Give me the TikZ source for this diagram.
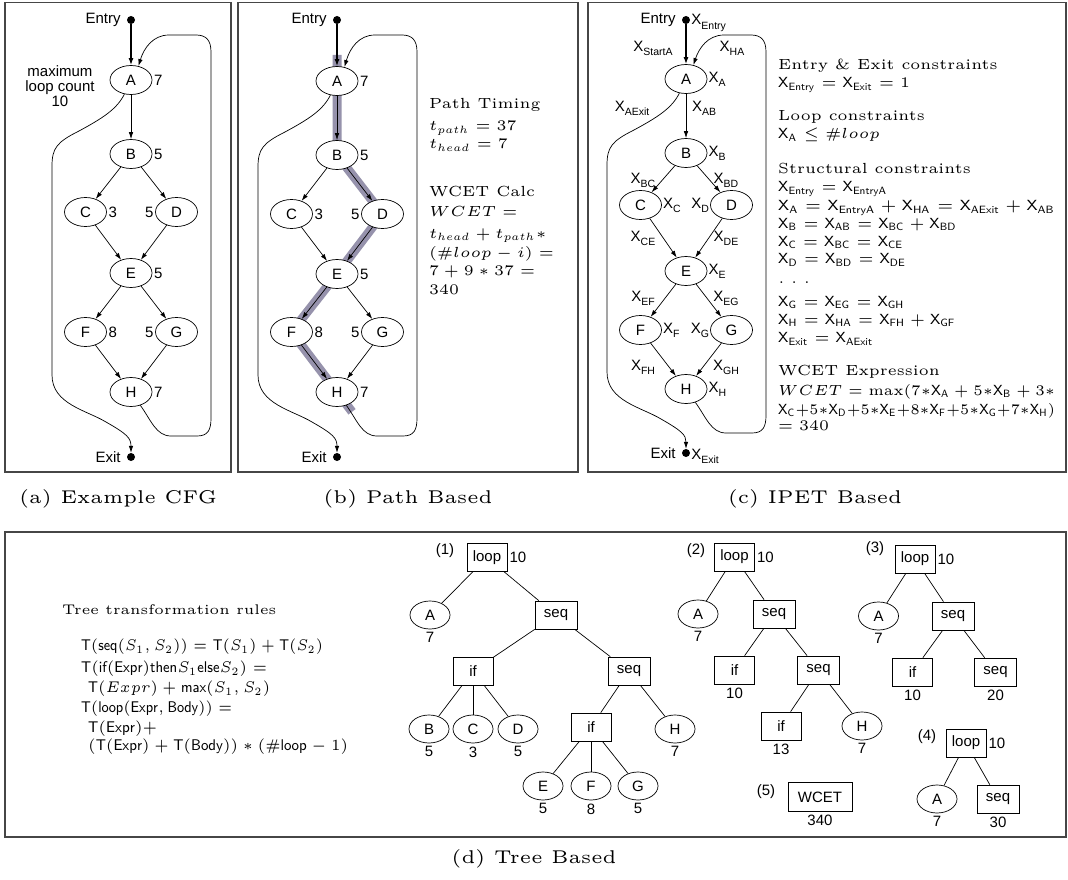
\documentclass[tikz,border=0pt]{standalone}
\usepackage{fix-cm}
\usepackage{fontspec}
\newfontfamily\hv{Liberation Sans}
\usetikzlibrary{arrows.meta,shapes.geometric,calc,backgrounds}
\DeclareMathSizes{5}{5}{3.6}{3}
\newcommand\sm[2][2.93]{\scalebox{#1}{\fontsize{5}{6}\selectfont #2}}
\newcommand\fitw[3]{\resizebox{#1}{#2\height}{\fontsize{5}{6}\selectfont #3}}
\newcommand\XX[1]{\mathsf{X}_{\mathsf{#1}}}
\newcommand\Xs[1]{X\raisebox{-0.28em}{\fontsize{10.5}{10.5}\selectfont #1}}
\definecolor{frame}{RGB}{70,70,70}
\definecolor{band}{RGB}{150,146,172}
\tikzset{
  lbl/.style={font=\hv\fontsize{15}{15}\selectfont, inner sep=0pt},
  cnode/.style={ellipse, draw, fill=white, minimum width=42pt, minimum height=29pt, inner sep=0pt, line width=0.7pt, font=\hv\fontsize{15}{15}\selectfont},
  dotn/.style={circle, fill, minimum size=8pt, inner sep=0pt},
  arr/.style={-{Latex[length=7pt,width=4.5pt]}, line width=0.7pt},
  entryarr/.style={-{Latex[length=7pt,width=5pt]}, line width=1.3pt},
  panel/.style={draw=frame, line width=1.2pt},
  tbox/.style={rectangle, draw, fill=white, minimum width=40pt, minimum height=28pt, inner sep=0pt, line width=0.7pt, font=\hv\fontsize{15}{15}\selectfont},
  tell/.style={ellipse, draw, fill=white, minimum width=40pt, minimum height=28pt, inner sep=0pt, line width=0.7pt, font=\hv\fontsize{15}{15}\selectfont},
  tedge/.style={line width=0.7pt},
  txt/.style={anchor=base west, inner sep=0pt},
  captxt/.style={anchor=base, inner sep=0pt},
}
\newcommand\cfg[9]{%
  \node[dotn] (#1En) at (#2,20) {};
  \node[dotn] (#1Ex) at (#2,#9) {};
  \node[cnode] (#1A) at (#2,#3) {A};
  \node[cnode] (#1B) at (#2,#4) {B};
  \node[cnode] (#1C) at ({#2-45.5},#5) {C};
  \node[cnode] (#1D) at ({#2+45.5},#5) {D};
  \node[cnode] (#1E) at (#2,#6) {E};
  \node[cnode] (#1F) at ({#2-45.5},#7) {F};
  \node[cnode] (#1G) at ({#2+45.5},#7) {G};
  \node[cnode] (#1H) at (#2,#8) {H};
  \draw[entryarr] (#1En) -- (#1A);
  \draw[arr] (#1A) -- (#1B);
  \draw[arr] (#1B) -- (#1C);
  \draw[arr] (#1B) -- (#1D);
  \draw[arr] (#1C) -- (#1E);
  \draw[arr] (#1D) -- (#1E);
  \draw[arr] (#1E) -- (#1F);
  \draw[arr] (#1E) -- (#1G);
  \draw[arr] (#1F) -- (#1H);
  \draw[arr] (#1G) -- (#1H);
  \draw[arr] (#1H.-55) .. controls ({#2+20},{#8+28}) and ({#2+25},{#8+44}) .. ({#2+40},{#8+44}) -- ({#2+66},{#8+44}) .. controls ({#2+77},{#8+44}) and ({#2+80},{#8+38}) .. ({#2+80},{#8+26}) -- ({#2+80},52) .. controls ({#2+80},40) and ({#2+75},35) .. ({#2+65},35) -- ({#2+38},35) .. controls ({#2+22},35) and ({#2+13},48) .. (#1A.62);
  \draw[arr] (#1A.-115) .. controls ({#2-14},{#3+29}) and ({#2-28},{#3+38}) .. ({#2-52},{#3+51}) .. controls ({#2-74},{#3+62}) and ({#2-79},{#3+68}) .. ({#2-79},{#3+86}) -- ({#2-79},{#8-17}) .. controls ({#2-79},{#8+12}) and ({#2-45},{#8+18}) .. ({#2-25},{#8+30}) .. controls ({#2-4},{#8+42}) and (#2,{#8+46}) .. (#1Ex.north);
}
\newcommand\wts[1]{%
  \node[lbl,anchor=west] (#1wA) at ([xshift=1.5pt]#1A.east) {7};
  \node[lbl,anchor=west] (#1wB) at ([xshift=1.5pt]#1B.east) {5};
  \node[lbl,anchor=west] (#1wC) at ([xshift=1.5pt]#1C.east) {3};
  \node[lbl,anchor=east] (#1wD) at ([xshift=-1.5pt]#1D.west) {5};
  \node[lbl,anchor=west] (#1wE) at ([xshift=1.5pt]#1E.east) {5};
  \node[lbl,anchor=west] (#1wF) at ([xshift=1.5pt]#1F.east) {8};
  \node[lbl,anchor=east] (#1wG) at ([xshift=-1.5pt]#1G.west) {5};
  \node[lbl,anchor=west] (#1wH) at ([xshift=1.5pt]#1H.east) {7};
  \node[lbl,anchor=east] (#1EnL) at ([xshift=-6pt]#1En.west) {Entry};
  \node[lbl,anchor=east] (#1ExL) at ([xshift=-6pt]#1Ex.west) {Exit};
}
\begin{document}
\begin{tikzpicture}[x=1pt,y=-1pt]
\useasboundingbox (0,0) rectangle (1068,880);
% panels
\draw[panel] (5,2.5) rectangle (231,472);
\draw[panel] (238,2.5) rectangle (578,472);
\draw[panel] (588,2.5) rectangle (1066,472);
\draw[panel] (5,532) rectangle (1066,837);

% ---------- (a)
\cfg{a}{131}{80}{154}{212}{273}{332}{392}{457}
\wts{a}
\node[lbl, align=center] (aMax) at (60,86) {maximum\\loop count\\10};
\node[captxt] (capa) at (118,503) {\sm[3.7]{(a) Example CFG}};

% ---------- (b)
\cfg{b}{337}{81}{155}{214}{274}{332}{392}{457}
\wts{b}
\coordinate (bandS) at (337,55);
\coordinate (bandE) at ($(bF.center)!1.33!(bH.center)$);
\begin{scope}[on background layer]
\fill[white] (0,0) rectangle (1068,880);
\draw[band, line width=9pt] (bandS) -- (bB.center) -- (bD.center) -- (bE.center) -- (bF.center) -- (bH.center) -- (bandE);
\end{scope}
\node[txt] (bt1) at (429,108.5) {\sm{Path Timing}};
\node[txt] (bt2) at (429,131) {\sm{$t_{path} = 37$}};
\node[txt] (bt3) at (429,149) {\sm{$t_{head} = 7$}};
\node[txt] (bt4) at (429,196.5) {\sm{WCET Calc}};
\node[txt] (bt5) at (429,216.5) {\sm{$WCET =$}};
\node[txt] (bt6) at (429,238) {\sm{$t_{head} + t_{path} *$}};
\node[txt] (bt7) at (429,257) {\sm{$(\#loop - i) =$}};
\node[txt] (bt8) at (429,275) {\sm{$7 + 9 * 37 =$}};
\node[txt] (bt9) at (429,294) {\sm{$340$}};
\node[captxt] (capb) at (408,503) {\sm[3.7]{(b) Path Based}};

% ---------- (c)
\cfg{c}{686}{79}{153}{205}{271}{330}{389}{453}
\node[lbl,anchor=east] (cEnL) at ([xshift=-6pt]cEn.west) {Entry};
\node[lbl,anchor=east] (cExL) at ([xshift=-6pt]cEx.west) {Exit};
\node[lbl,anchor=west] (cXEn) at ([xshift=1pt,yshift=-3pt]cEn.east) {\Xs{Entry}};
\node[lbl,anchor=west] (cXEx) at ([xshift=1pt,yshift=-3pt]cEx.east) {\Xs{Exit}};
\node[lbl,anchor=west] (cXA) at ([xshift=1pt]cA.east) {\Xs{A}};
\node[lbl,anchor=west] (cXB) at ([xshift=1pt]cB.east) {\Xs{B}};
\node[lbl,anchor=west] (cXC) at ([xshift=1pt]cC.east) {\Xs{C}};
\node[lbl,anchor=east] (cXD) at ([xshift=-1pt]cD.west) {\Xs{D}};
\node[lbl,anchor=west] (cXE) at ([xshift=1pt]cE.east) {\Xs{E}};
\node[lbl,anchor=west] (cXF) at ([xshift=1pt]cF.east) {\Xs{F}};
\node[lbl,anchor=east] (cXG) at ([xshift=-1pt]cG.west) {\Xs{G}};
\node[lbl,anchor=west] (cXH) at ([xshift=1pt]cH.east) {\Xs{H}};
\node[lbl] (cXSA) at (653,48) {\Xs{StartA}};
\node[lbl] (cXHA) at (732,48) {\Xs{HA}};
\node[lbl] (cXAE) at (632,108) {\Xs{AExit}};
\node[lbl] (cXAB) at (704,108) {\Xs{AB}};
\node[lbl] (cXBC) at (643,180) {\Xs{BC}};
\node[lbl] (cXBD) at (726,180) {\Xs{BD}};
\node[lbl] (cXCE) at (643,238) {\Xs{CE}};
\node[lbl] (cXDE) at (726,238) {\Xs{DE}};
\node[lbl] (cXEF) at (643,298) {\Xs{EF}};
\node[lbl] (cXEG) at (726,298) {\Xs{EG}};
\node[lbl] (cXFH) at (643,367) {\Xs{FH}};
\node[lbl] (cXGH) at (726,367) {\Xs{GH}};
\node[txt] (ct1) at (778,70) {\sm{Entry \& Exit constraints}};
\node[txt] (ct2) at (778,88) {\sm{$\XX{Entry} = \XX{Exit} = 1$}};
\node[txt] (ct3) at (778,121) {\sm{Loop constraints}};
\node[txt] (ct4) at (778,139) {\sm{$\XX{A} \le \#loop$}};
\node[txt] (ct5) at (778,173) {\sm{Structural constraints}};
\node[txt] (ct6) at (778,191.5) {\sm{$\XX{Entry} = \XX{EntryA}$}};
\node[txt] (ct7) at (778,210.5) {\fitw{277pt}{2.93}{$\XX{A} = \XX{EntryA} + \XX{HA} = \XX{AExit} + \XX{AB}$}};
\node[txt] (ct8) at (778,228) {\sm{$\XX{B} = \XX{AB} = \XX{BC} + \XX{BD}$}};
\node[txt] (ct9) at (778,246) {\sm{$\XX{C} = \XX{BC} = \XX{CE}$}};
\node[txt] (ct10) at (778,263.5) {\sm{$\XX{D} = \XX{BD} = \XX{DE}$}};
\node[txt] (ct11) at (778,283) {\sm{$.\;.\;.$}};
\node[txt] (ct12) at (778,306) {\sm{$\XX{G} = \XX{EG} = \XX{GH}$}};
\node[txt] (ct13) at (778,324) {\sm{$\XX{H} = \XX{HA} = \XX{FH} + \XX{GF}$}};
\node[txt] (ct14) at (778,342.7) {\sm{$\XX{Exit} = \XX{AExit}$}};
\node[txt] (ct15) at (778,375) {\sm{WCET Expression}};
\node[txt] (ct16) at (778,395) {\fitw{277pt}{2.93}{$WCET = \max(7{*}\XX{A} + 5{*}\XX{B} + 3{*}$}};
\node[txt] (ct17) at (778,414) {\fitw{277pt}{2.93}{$\XX{C}{+}5{*}\XX{D}{+}5{*}\XX{E}{+}8{*}\XX{F}{+}5{*}\XX{G}{+}7{*}\XX{H})$}};
\node[txt] (ct18) at (778,430.7) {\sm{$= 340$}};
\node[captxt] (capc) at (815,503) {\sm[3.7]{(c) IPET Based}};

% ---------- (d) rules
\node[txt] (r0) at (62,614) {\sm[2.8]{Tree transformation rules}};
\node[txt] (r1) at (81,650) {\fitw{242pt}{3.1}{$\mathsf{T}(\mathsf{seq}(S_1, S_2)) = \mathsf{T}(S_1) + \mathsf{T}(S_2)$}};
\node[txt] (r2) at (81,672) {\fitw{186pt}{3.1}{$\mathsf{T}(\mathsf{if}(\mathsf{Expr})\mathsf{then}S_1\mathsf{else}S_2) =$}};
\node[txt] (r3) at (88,692) {\fitw{182pt}{3.1}{$\mathsf{T}(Expr) + \mathsf{max}(S_1, S_2)$}};
\node[txt] (r4) at (81,712) {\fitw{151pt}{3.1}{$\mathsf{T}(\mathsf{loop}(\mathsf{Expr}, \mathsf{Body})) =$}};
\node[txt] (r5) at (88,732) {\fitw{69pt}{3.1}{$\mathsf{T}(\mathsf{Expr}) +$}};
\node[txt] (r6) at (88,750) {\fitw{260pt}{3.1}{$(\mathsf{T}(\mathsf{Expr}) + \mathsf{T}(\mathsf{Body})) * (\#\mathsf{loop} - 1)$}};

% tree (1)
\node[lbl] (n1) at (445,551) {(1)};
\node[tbox] (t1loop) at (487,557.5) {loop};
\node[lbl,anchor=west] (t1loopv) at ([xshift=2pt]t1loop.east) {10};
\node[tell] (t1A) at (430,615) {A};
\node[tbox, minimum width=42pt] (t1seq) at (556,615) {seq};
\node[tbox] (t1if) at (473,671) {if};
\node[tbox, minimum width=42pt] (t1seq2) at (629,671) {seq};
\node[tell] (t1B) at (429,729) {B};
\node[tell] (t1C) at (473,729) {C};
\node[tell] (t1D) at (518,729) {D};
\node[tbox] (t1if2) at (591,727) {if};
\node[tell] (t1H) at (675,729) {H};
\node[tell] (t1E) at (543,786) {E};
\node[tell] (t1F) at (591,786) {F};
\node[tell] (t1G) at (638,786) {G};
\foreach \n/\v in {t1A/7,t1B/5,t1C/3,t1D/5,t1H/7,t1E/5,t1F/8,t1G/5}
  \node[lbl,anchor=north] (\n v) at ([yshift=-3pt]\n.south) {\v};
\draw[tedge] (t1loop) -- (t1A);
\draw[tedge] (t1loop) -- (t1seq);
\draw[tedge] (t1seq) -- (t1if);
\draw[tedge] (t1seq) -- (t1seq2);
\draw[tedge] (t1if) -- (t1B);
\draw[tedge] (t1if) -- (t1C);
\draw[tedge] (t1if) -- (t1D);
\draw[tedge] (t1seq2) -- (t1if2);
\draw[tedge] (t1seq2) -- (t1H);
\draw[tedge] (t1if2) -- (t1E);
\draw[tedge] (t1if2) -- (t1F);
\draw[tedge] (t1if2) -- (t1G);

% tree (2)
\node[lbl] (n2) at (696,551) {(2)};
\node[tbox] (t2loop) at (734.5,557) {loop};
\node[lbl,anchor=west] (t2loopv) at ([xshift=2pt]t2loop.east) {10};
\node[tell] (t2A) at (698,614) {A};
\node[tbox, minimum width=42pt] (t2seq) at (774,614) {seq};
\node[tbox] (t2if) at (734.5,670) {if};
\node[tbox, minimum width=42pt] (t2seq2) at (818.5,670) {seq};
\node[tbox] (t2if2) at (781,726) {if};
\node[tell] (t2H) at (862,726) {H};
\foreach \n/\v in {t2A/7,t2if/10,t2if2/13,t2H/7}
  \node[lbl,anchor=north] (\n v) at ([yshift=-3pt]\n.south) {\v};
\draw[tedge] (t2loop) -- (t2A);
\draw[tedge] (t2loop) -- (t2seq);
\draw[tedge] (t2seq) -- (t2if);
\draw[tedge] (t2seq) -- (t2seq2);
\draw[tedge] (t2seq2) -- (t2if2);
\draw[tedge] (t2seq2) -- (t2H);

% tree (3)
\node[lbl] (n3) at (875,549) {(3)};
\node[tbox] (t3loop) at (915,559) {loop};
\node[lbl,anchor=west] (t3loopv) at ([xshift=2pt]t3loop.east) {10};
\node[tell] (t3A) at (878.5,616) {A};
\node[tbox, minimum width=42pt] (t3seq) at (953,616) {seq};
\node[tbox] (t3if) at (912.5,672) {if};
\node[tbox, minimum width=42pt] (t3seq2) at (995.5,672) {seq};
\foreach \n/\v in {t3A/7,t3if/10,t3seq2/20}
  \node[lbl,anchor=north] (\n v) at ([yshift=-3pt]\n.south) {\v};
\draw[tedge] (t3loop) -- (t3A);
\draw[tedge] (t3loop) -- (t3seq);
\draw[tedge] (t3seq) -- (t3if);
\draw[tedge] (t3seq) -- (t3seq2);

% tree (4)
\node[lbl] (n4) at (927,737) {(4)};
\node[tbox] (t4loop) at (966,743) {loop};
\node[lbl,anchor=west] (t4loopv) at ([xshift=2pt]t4loop.east) {10};
\node[tell] (t4A) at (937,799) {A};
\node[tbox, minimum width=42pt] (t4seq) at (998,799) {seq};
\foreach \n/\v in {t4A/7,t4seq/30}
  \node[lbl,anchor=north] (\n v) at ([yshift=-3pt]\n.south) {\v};
\draw[tedge] (t4loop) -- (t4A);
\draw[tedge] (t4loop) -- (t4seq);

% tree (5)
\node[lbl] (n5) at (766,792) {(5)};
\node[tbox, minimum width=64pt, minimum height=29pt] (t5) at (820,797) {WCET};
\node[lbl,anchor=north] (t5v) at ([yshift=-3pt]t5.south) {340};

\node[captxt] (capd) at (534,863) {\sm[3.7]{(d) Tree Based}};
\end{tikzpicture}
\end{document}
